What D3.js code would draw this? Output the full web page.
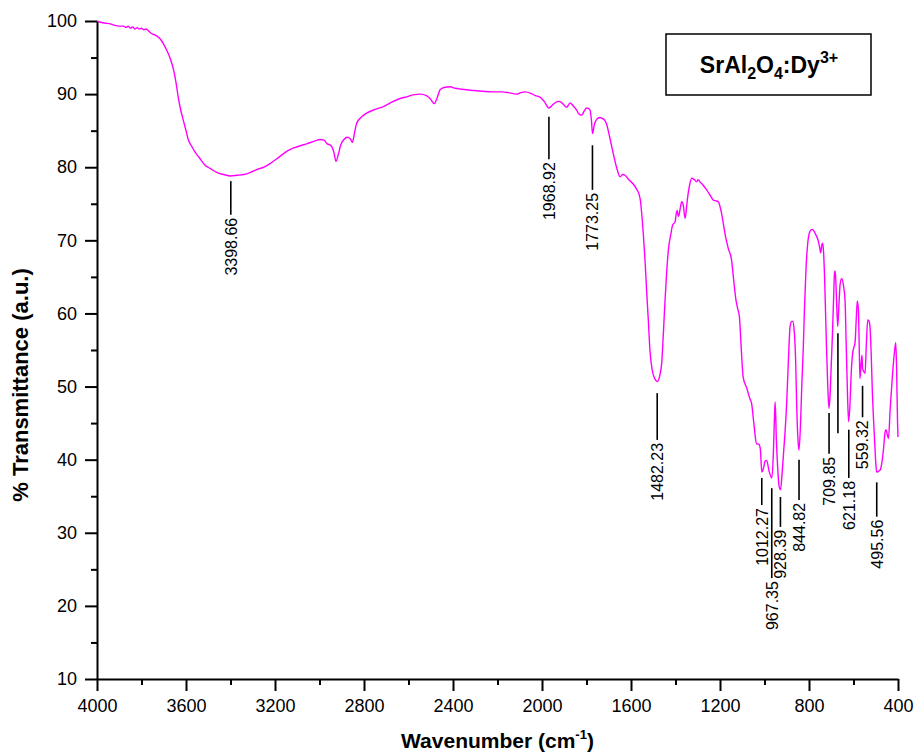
<!DOCTYPE html>
<html>
<head>
<meta charset="utf-8">
<script src="https://cdn.jsdelivr.net/npm/d3@7"></script>
<style>
    html, body { margin: 0; padding: 0; background: #fff; }
    svg { display: block; font-family: "Liberation Sans", Arial, Helvetica, sans-serif; }
</style>
</head>
<body>
<div id="chart"></div>
<script>
// FTIR spectrum of SrAl2O4:Dy3+
const wavenumbers = [
    4000, 3980, 3960, 3940, 3920, 3900, 3880, 3870, 3860, 3850, 3840, 3830, 3820, 3810, 3800,
    3790, 3780, 3770, 3760, 3750, 3740, 3725, 3710, 3700, 3685, 3670, 3655, 3645, 3635, 3625,
    3612, 3600, 3590, 3575, 3560, 3540, 3515, 3490, 3462, 3430, 3400, 3370, 3340, 3310, 3280,
    3250, 3222, 3190, 3160, 3133, 3100, 3058, 3020, 2998, 2980, 2965, 2950, 2935, 2926, 2915,
    2905, 2890, 2875, 2862, 2852, 2842, 2833, 2810, 2788, 2750, 2713, 2675, 2638, 2600, 2580,
    2548, 2520, 2503, 2484, 2470, 2458, 2440, 2413, 2390, 2369, 2340, 2309, 2270, 2219, 2180,
    2150, 2114, 2095, 2076, 2050, 2030, 2009, 1990, 1969, 1950, 1927, 1915, 1904, 1889, 1874,
    1860, 1844, 1835, 1822, 1810, 1800, 1785, 1778, 1773, 1765, 1755, 1740, 1732, 1720, 1710,
    1695, 1680, 1665, 1649, 1637, 1627, 1610, 1590, 1575, 1565, 1558, 1550, 1545, 1537, 1530,
    1522, 1515, 1505, 1495, 1482, 1470, 1462, 1455, 1447, 1440, 1432, 1420, 1413, 1402, 1396,
    1392, 1388, 1384, 1378, 1372, 1365, 1357, 1352, 1347, 1337, 1327, 1315, 1305, 1298, 1290,
    1275, 1260, 1245, 1230, 1218, 1208, 1195, 1185, 1175, 1163, 1148, 1140, 1128, 1120, 1113,
    1105, 1096, 1080, 1065, 1058, 1048, 1036, 1025, 1019, 1012, 1005, 997, 990, 980, 967,
    960, 955, 952, 947, 940, 935, 928, 920, 913, 908, 900, 892, 885, 878, 873,
    867, 860, 855, 849, 845, 838, 832, 826, 820, 813, 805, 796, 788, 781, 770,
    759, 752, 748, 742, 739, 735, 730, 722, 715, 710, 705, 700, 695, 690, 685,
    682, 677, 671, 665, 660, 653, 646, 638, 633, 627, 622, 616, 610, 604, 598,
    593, 588, 583, 578, 574, 571, 566, 562, 559, 553, 548, 542, 536, 531, 526,
    520, 515, 510, 505, 500, 496, 488, 480, 473, 465, 458, 454, 448, 443, 435,
    425, 415, 410, 406, 402, 400
];
const transmittance = [
    100.0, 99.8, 99.7, 99.6, 99.4, 99.3, 99.3, 99.1, 99.3, 99.0, 99.2, 98.9, 99.1, 98.9, 99.0,
    98.8, 98.9, 98.7, 98.4, 98.2, 98.1, 97.8, 97.3, 96.8, 95.9, 94.8, 93.2, 91.6, 89.6, 88.0,
    86.4, 85.0, 83.8, 82.9, 82.1, 81.3, 80.3, 79.8, 79.3, 79.0, 78.8, 78.9, 79.0, 79.3, 79.7,
    80.0, 80.5, 81.2, 81.9, 82.4, 82.8, 83.2, 83.6, 83.8, 83.7, 83.2, 83.0, 82.0, 80.8, 81.8,
    83.0, 83.8, 84.1, 83.9, 83.4, 84.8, 86.0, 86.9, 87.4, 87.9, 88.3, 88.9, 89.4, 89.7, 89.9,
    90.0, 89.8, 89.4, 88.7, 89.6, 90.6, 90.9, 91.0, 90.8, 90.7, 90.6, 90.5, 90.4, 90.3, 90.3,
    90.2, 90.0, 90.2, 90.3, 90.1, 89.8, 89.6, 89.0, 88.1, 88.6, 89.0, 88.9, 88.6, 88.2, 88.8,
    88.4, 87.8, 87.3, 87.1, 87.7, 88.1, 87.9, 86.5, 84.6, 85.8, 86.5, 86.8, 86.7, 86.5, 85.9,
    84.0, 81.9, 80.0, 78.7, 79.0, 78.9, 78.3, 77.7, 77.0, 76.4, 75.5, 73.0, 71.0, 67.3, 63.2,
    59.0, 55.0, 52.3, 51.2, 50.7, 51.6, 53.2, 57.0, 61.8, 65.5, 68.7, 71.0, 72.1, 72.5, 73.8,
    74.1, 73.3, 73.5, 74.5, 75.3, 74.8, 73.0, 74.0, 75.5, 77.5, 78.5, 78.3, 78.0, 78.3, 78.0,
    77.5, 76.9, 76.2, 75.5, 75.4, 75.3, 74.0, 72.3, 70.5, 68.9, 67.3, 65.0, 61.8, 60.6, 59.6,
    55.5, 51.3, 49.8, 48.3, 47.7, 45.0, 42.2, 42.1, 41.5, 38.3, 38.8, 39.8, 39.9, 38.5, 37.5,
    41.0, 46.0, 47.9, 43.0, 38.5, 36.5, 35.9, 38.5, 41.5, 43.6, 48.0, 54.0, 58.2, 58.9, 58.9,
    57.8, 53.5, 47.0, 42.5, 41.3, 45.0, 50.5, 55.0, 61.0, 66.4, 69.8, 71.2, 71.5, 71.4, 70.8,
    70.0, 69.0, 68.3, 69.4, 69.6, 68.6, 65.0, 56.0, 49.5, 47.0, 49.0, 53.0, 56.8, 61.5, 65.6,
    65.8, 62.5, 58.2, 61.5, 64.0, 64.8, 64.0, 61.8, 56.0, 49.0, 45.2, 47.5, 52.0, 54.5, 55.4,
    56.0, 59.0, 61.7, 60.5, 55.0, 51.1, 53.0, 54.3, 52.5, 52.0, 51.8, 56.0, 59.1, 59.0, 58.2,
    54.0, 49.0, 45.5, 42.5, 39.6, 38.3, 38.4, 38.6, 39.5, 41.5, 43.8, 44.1, 43.4, 42.9, 47.0,
    51.5, 55.0, 56.0, 52.0, 45.0, 43.1
];

// Peak annotations: label, wavenumber, leader line top / bottom (in % T)
const peakLabels   = ['3398.66', '1968.92', '1773.25', '1482.23', '1012.27', '967.35', '928.39', '844.82', '709.85', '', '621.18', '559.32', '495.56'];
const peakPositions = [3398.66, 1968.92, 1773.25, 1482.23, 1012.27, 967.35, 928.39, 844.82, 709.85, 670, 621.18, 559.32, 495.56];
const peakLineTop    = [78.1, 86.9, 83.0, 49.1, 37.5, 36.1, 34.9, 40.0, 46.4, 57.3, 44.1, 50.1, 36.9];
const peakLineBottom = [73.5, 81.1, 76.9, 42.7, 33.8, 23.8, 30.8, 34.5, 40.8, 43.6, 37.5, 45.8, 32.2];

const xMajorTicks = [4000, 3600, 3200, 2800, 2400, 2000, 1600, 1200, 800, 400];
const xMinorTicks = [3800, 3400, 3000, 2600, 2200, 1800, 1400, 1000, 600];
const yMajorTicks = [10, 20, 30, 40, 50, 60, 70, 80, 90, 100];
const yMinorTicks = [15, 25, 35, 45, 55, 65, 75, 85, 95];

function renderSpectrum(containerId) {
    const margin = { top: 21, right: 17, bottom: 75, left: 97 };
    const totalWidth = 915;
    const totalHeight = 754;
    const width = totalWidth - margin.left - margin.right;
    const height = totalHeight - margin.top - margin.bottom;

    const root = d3.select(`#${containerId}`)
        .append('svg')
        .attr('width', totalWidth)
        .attr('height', totalHeight);

    const svg = root.append('g')
        .attr('transform', `translate(${margin.left}, ${margin.top})`);

    const xScale = d3.scaleLinear().domain([4000, 400]).range([0, width]);
    const yScale = d3.scaleLinear().domain([10, 100]).range([height, 0]);

    // Minor ticks
    svg.append('g')
        .attr('transform', `translate(0, ${height})`)
        .call(d3.axisBottom(xScale).tickValues(xMinorTicks).tickSize(6).tickSizeOuter(0).tickFormat(''))
        .call(g => g.select('.domain').remove());
    svg.append('g')
        .call(d3.axisLeft(yScale).tickValues(yMinorTicks).tickSize(6).tickSizeOuter(0).tickFormat(''))
        .call(g => g.select('.domain').remove());

    // Major axes
    const xAxis = svg.append('g')
        .attr('transform', `translate(0, ${height})`)
        .call(d3.axisBottom(xScale).tickValues(xMajorTicks).tickFormat(d3.format('d'))
            .tickSize(12).tickPadding(8).tickSizeOuter(0));
    const yAxis = svg.append('g')
        .call(d3.axisLeft(yScale).tickValues(yMajorTicks).tickFormat(d3.format('d'))
            .tickSize(12).tickPadding(8).tickSizeOuter(0));

    [xAxis, yAxis].forEach(ax => {
        ax.selectAll('text')
            .attr('fill', '#000')
            .style('font-size', '18px')
            .style('font-family', '"Liberation Sans", Arial, Helvetica, sans-serif');
    });
    svg.selectAll('.domain, .tick line')
        .attr('stroke', '#000')
        .attr('stroke-width', 2);

    // Spectrum line
    const data = wavenumbers.map((w, i) => ({ w: w, t: transmittance[i] }));
    const line = d3.line()
        .x(d => xScale(d.w))
        .y(d => yScale(d.t))
        .curve(d3.curveMonotoneX);

    svg.append('path')
        .datum(data)
        .attr('fill', 'none')
        .attr('stroke', '#ff00ff')
        .attr('stroke-width', 1.4)
        .attr('stroke-linejoin', 'round')
        .attr('d', line);

    // Peak annotations
    peakPositions.forEach((w, i) => {
        const px = xScale(w);
        svg.append('line')
            .attr('x1', px)
            .attr('x2', px)
            .attr('y1', yScale(peakLineTop[i]))
            .attr('y2', yScale(peakLineBottom[i]))
            .attr('stroke', '#000')
            .attr('stroke-width', 1.6);

        if (peakLabels[i]) {
            const ty = yScale(peakLineBottom[i]) + 3;
            svg.append('text')
                .attr('transform', `translate(${px}, ${ty}) rotate(-90)`)
                .attr('dy', '0.36em')
                .attr('text-anchor', 'end')
                .attr('fill', '#000')
                .style('font-size', '16px')
                .text(peakLabels[i]);
        }
    });

    // Legend box
    const legend = root.append('g');
    legend.append('rect')
        .attr('x', 666)
        .attr('y', 34)
        .attr('width', 205)
        .attr('height', 61)
        .attr('fill', '#fff')
        .attr('stroke', '#000')
        .attr('stroke-width', 1.5);

    const legendText = legend.append('text')
        .attr('x', 769)
        .attr('y', 73)
        .attr('text-anchor', 'middle')
        .style('font-size', '23px')
        .style('font-weight', 'bold');
    legendText.append('tspan').text('SrAl');
    legendText.append('tspan').attr('dy', 6).style('font-size', '16px').text('2');
    legendText.append('tspan').attr('dy', -6).text('O');
    legendText.append('tspan').attr('dy', 6).style('font-size', '16px').text('4');
    legendText.append('tspan').attr('dy', -6).text(':Dy');
    legendText.append('tspan').attr('dy', -10).style('font-size', '16px').text('3+');

    // Axis titles
    const xTitle = root.append('text')
        .attr('x', margin.left + width / 2)
        .attr('y', 748)
        .attr('text-anchor', 'middle')
        .style('font-size', '21px')
        .style('font-weight', 'bold')
        .text('Wavenumber (cm');
    xTitle.append('tspan').attr('dy', -9).style('font-size', '13px').text('-1');
    xTitle.append('tspan').attr('dy', 9).text(')');

    root.append('text')
        .attr('transform', 'translate(28, 385) rotate(-90)')
        .attr('text-anchor', 'middle')
        .style('font-size', '22px')
        .style('font-weight', 'bold')
        .text('% Transmittance (a.u.)');
}

renderSpectrum('chart');
</script>
</body>
</html>
